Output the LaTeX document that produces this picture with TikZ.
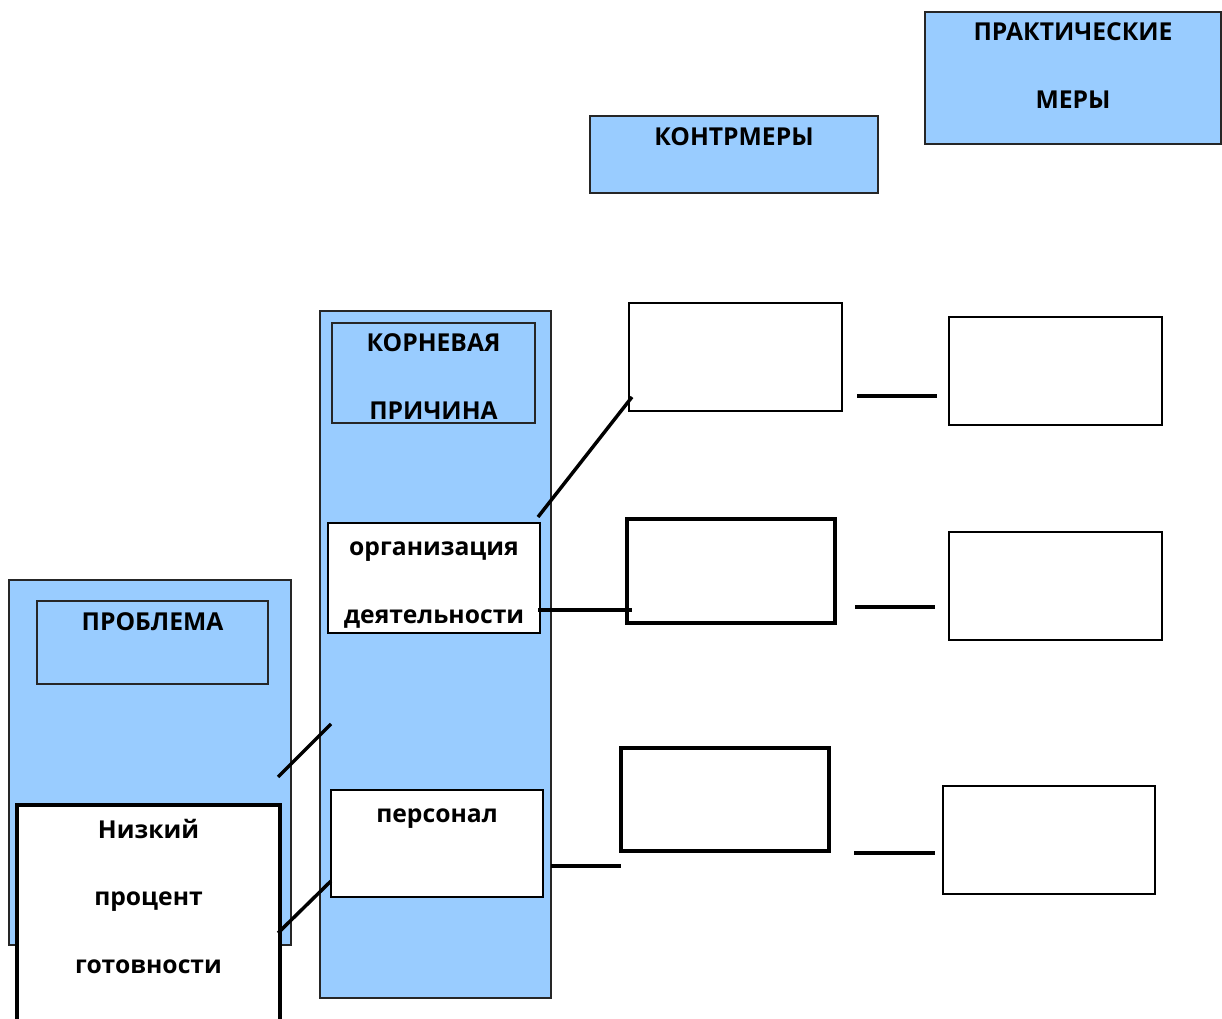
\documentclass[tikz,border=0pt]{standalone}
\usepackage{fontspec}
\setmainfont{Open Sans}
\usetikzlibrary{fit}
\definecolor{paleblue}{HTML}{99CCFF}
\begin{document}
\begin{tikzpicture}[x=0.75pt,y=-0.75pt,
  panel/.style={draw=black!85, line width=0.9pt, fill=paleblue, inner sep=0pt},
  header/.style={draw=black!85, line width=0.8pt, inner sep=0pt},
  wbox/.style={draw=black, line width=2.6pt, fill=white, inner sep=0pt},
  ebox/.style={draw=black, line width=2pt, fill=white, inner sep=0pt},
  lbl/.style={anchor=base, inner sep=0pt, font=\bfseries\fontsize{18.5}{22}\selectfont},
  link/.style={line width=2.6pt}]
\clip (0,0) rectangle (1222,1019);
\fill[white] (0,0) rectangle (1222,1019);

% problem column
\node[panel, fit={(9,580) (291,945)}] (probpanel) {};
\node[header, fit={(37,601) (268,684)}] (probhead) {};
\node[lbl] (probtxt) at (probhead.north |- 0,631) {ПРОБЛЕМА};
\node[wbox, fit={(17,805) (280,1035)}] (low) {};
\node[lbl] (low1) at (low.north |- 0,838) {Низкий};
\node[lbl] (low2) at (low.north |- 0,905) {процент};
\node[lbl] (low3) at (low.north |- 0,973) {готовности};

% root cause column
\node[panel, fit={(320,311) (551,998)}] (rootpanel) {};
\node[header, fit={(332,323) (535,423)}] (roothead) {};
\node[lbl] (root1) at (roothead.north |- 0,352) {КОРНЕВАЯ};
\node[lbl] (root2) at (roothead.north |- 0,420) {ПРИЧИНА};
\node[wbox, line width=2.2pt, fit={(328,523) (540,633)}] (org) {};
\node[lbl] (org1) at (org.north |- 0,556) {организация};
\node[lbl] (org2) at (org.north |- 0,624) {деятельности};
\node[wbox, line width=2.2pt, fit={(331,790) (543,897)}] (pers) {};
\node[lbl] (pers1) at (pers.north |- 0,822) {персонал};

% headers
\node[panel, fit={(590,116) (878,193)}] (counter) {};
\node[lbl] (countertxt) at (counter.north |- 0,146) {КОНТРМЕРЫ};
\node[panel, fit={(925,12) (1221,144)}] (practical) {};
\node[lbl] (pract1) at (practical.north |- 0,41) {ПРАКТИЧЕСКИЕ};
\node[lbl] (pract2) at (practical.north |- 0,109) {МЕРЫ};

% countermeasure boxes
\node[ebox, fit={(629,303) (842,411)}] (cm1) {};
\node[wbox, fit={(627,519) (835,623)}] (cm2) {};
\node[wbox, fit={(621,748) (829,851)}] (cm3) {};

% practical boxes
\node[ebox, fit={(949,317) (1162,425)}] (pm1) {};
\node[ebox, fit={(949,532) (1162,640)}] (pm2) {};
\node[ebox, fit={(943,786) (1155,894)}] (pm3) {};

% connector end points
\coordinate (a1) at (278,777);
\coordinate (b1) at (331,724);
\coordinate (a2) at (278,933);
\coordinate (b2) at (331,881);
\coordinate (a3) at (538,517);
\coordinate (b3) at (632,397);
\coordinate (a4) at (538,610);
\coordinate (b4) at (632,610);
\coordinate (a5) at (551,866);
\coordinate (b5) at (621,866);
\coordinate (a6) at (857,396);
\coordinate (b6) at (937,396);
\coordinate (a7) at (855,607);
\coordinate (b7) at (935,607);
\coordinate (a8) at (854,853);
\coordinate (b8) at (935,853);

\draw[link] (a1) -- (b1);
\draw[link] (a2) -- (b2);
\draw[link] (a3) -- (b3);
\draw[link] (a4) -- (b4);
\draw[link] (a5) -- (b5);
\draw[link] (a6) -- (b6);
\draw[link] (a7) -- (b7);
\draw[link] (a8) -- (b8);
\end{tikzpicture}
\end{document}
